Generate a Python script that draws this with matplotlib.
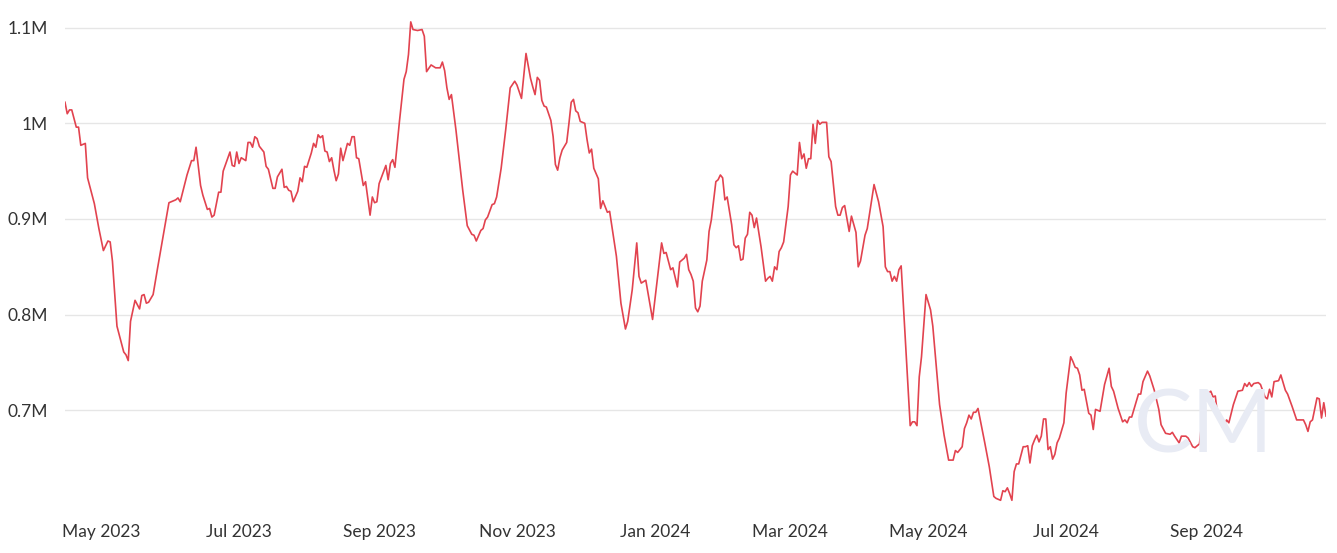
import numpy as np
import pandas as pd
import matplotlib
matplotlib.use("Agg")
import matplotlib.pyplot as plt
import matplotlib.dates as mdates
from matplotlib.ticker import FixedLocator, FuncFormatter

plt.rcParams["font.family"] = ["Lato", "DejaVu Sans"]

# ── data: days since first observation, value (thousands) ──────────────────
START = pd.Timestamp("2023-04-15")

day = [
    0, 1, 2, 3, 5, 6, 7, 9, 10, 13, 15, 17, 19, 20, 21, 23, 25, 26, 27, 28,
    29, 31, 33, 34, 35, 36, 37, 39, 41, 46, 48, 49, 50, 51, 54, 56, 57, 58, 60, 61,
    63, 64, 65, 66, 68, 69, 70, 73, 74, 75, 76, 77, 78, 80, 81, 82, 83, 84, 85, 86,
    88, 89, 90, 92, 93, 94, 96, 97, 98, 99, 100, 101, 103, 104, 105, 106, 107, 109, 110, 111,
    112, 113, 114, 115, 116, 117, 118, 119, 120, 121, 122, 123, 125, 126, 127, 128, 129, 130, 132, 133,
    135, 136, 137, 138, 139, 142, 143, 144, 145, 146, 148, 150, 151, 152, 153, 154, 156, 158, 159, 160,
    162, 164, 166, 167, 168, 169, 170, 171, 173, 176, 178, 180, 181, 182, 184, 185, 186, 187, 189, 190,
    191, 193, 195, 197, 199, 200, 201, 202, 204, 206, 207, 208, 209, 210, 211, 212, 213, 215, 216, 217,
    218, 219, 220, 222, 223, 224, 225, 226, 227, 228, 230, 231, 232, 233, 234, 236, 237, 238, 240, 241,
    244, 246, 248, 249, 251, 253, 254, 255, 257, 260, 264, 265, 266, 268, 269, 271, 272, 274, 275, 276,
    277, 278, 279, 280, 281, 282, 284, 285, 286, 288, 289, 290, 291, 292, 293, 295, 296, 297, 298, 299,
    300, 301, 302, 303, 304, 305, 306, 308, 310, 311, 312, 313, 314, 315, 316, 317, 318, 320, 321, 322,
    324, 325, 326, 327, 328, 329, 330, 331, 332, 333, 334, 335, 337, 338, 339, 341, 342, 343, 344, 345,
    347, 348, 350, 351, 352, 354, 355, 358, 360, 362, 363, 364, 365, 366, 367, 368, 369, 370, 372, 374,
    375, 376, 377, 378, 379, 381, 383, 384, 387, 389, 391, 393, 394, 395, 397, 398, 399, 400, 401, 402,
    403, 404, 407, 409, 411, 412, 414, 415, 416, 417, 418, 419, 420, 421, 422, 424, 425, 426, 427, 428,
    429, 430, 431, 432, 433, 434, 435, 436, 437, 438, 439, 440, 442, 443, 445, 446, 447, 448, 449, 450,
    451, 453, 454, 455, 456, 457, 458, 460, 462, 463, 464, 466, 468, 469, 470, 471, 472, 475, 476, 477,
    479, 480, 482, 484, 485, 487, 489, 490, 491, 493, 494, 496, 497, 499, 500, 502, 503, 505, 507, 508,
    509, 510, 512, 513, 514, 515, 517, 519, 521, 522, 523, 524, 525, 526, 528, 529, 531, 532, 533, 534,
    535, 537, 538, 540, 541, 543, 545, 548, 549, 550, 551, 552, 554, 555, 556, 557, 558,
]

value_k = [
    1022, 1010, 1014, 1014, 996, 996, 977, 979, 943, 916, 890, 867, 877, 876, 856, 788, 770, 761, 758, 752,
    793, 815, 806, 820, 821, 812, 813, 821, 849, 917, 919, 920, 922, 918, 946, 961, 961, 975, 935, 925,
    910, 911, 902, 904, 928, 928, 950, 970, 956, 955, 970, 958, 964, 961, 980, 980, 975, 986, 984, 976,
    970, 955, 952, 932, 932, 944, 952, 933, 934, 930, 929, 918, 929, 943, 939, 955, 954, 969, 979, 975,
    988, 985, 987, 971, 970, 960, 964, 951, 940, 947, 974, 961, 979, 977, 986, 986, 964, 963, 935, 939,
    904, 923, 917, 918, 937, 956, 941, 958, 962, 954, 1002, 1046, 1054, 1072, 1106, 1098, 1097, 1098, 1091, 1054,
    1061, 1058, 1058, 1064, 1055, 1037, 1025, 1030, 993, 930, 893, 884, 883, 877, 888, 890, 899, 902, 915, 916,
    923, 953, 993, 1037, 1044, 1040, 1033, 1026, 1073, 1047, 1038, 1030, 1048, 1045, 1024, 1018, 1017, 1003, 986, 957,
    951, 964, 972, 980, 1000, 1022, 1025, 1013, 1011, 1002, 1000, 983, 969, 973, 953, 942, 911, 919, 907, 908,
    861, 812, 785, 793, 826, 875, 840, 833, 836, 795, 875, 864, 865, 847, 849, 829, 855, 859, 863, 847,
    842, 835, 807, 803, 809, 835, 857, 887, 899, 939, 941, 946, 943, 920, 923, 894, 873, 870, 872, 857,
    858, 880, 884, 907, 904, 891, 901, 871, 835, 838, 840, 835, 850, 847, 866, 870, 876, 913, 946, 950,
    946, 980, 963, 968, 953, 963, 963, 999, 979, 1003, 999, 1001, 1001, 965, 960, 913, 904, 904, 912, 914,
    887, 903, 886, 850, 856, 883, 890, 936, 918, 892, 850, 845, 845, 835, 840, 835, 847, 851, 767, 684,
    688, 688, 684, 735, 756, 821, 805, 788, 706, 674, 648, 648, 658, 656, 662, 681, 687, 695, 691, 698,
    698, 702, 666, 641, 610, 608, 606, 616, 615, 619, 613, 606, 636, 644, 644, 662, 662, 663, 645, 663,
    669, 674, 667, 673, 691, 691, 659, 662, 649, 654, 666, 671, 687, 718, 756, 751, 745, 744, 737, 721,
    722, 697, 695, 680, 701, 700, 699, 727, 744, 725, 720, 702, 688, 690, 687, 693, 693, 717, 717, 730,
    741, 736, 721, 701, 685, 676, 675, 677, 673, 666, 673, 673, 671, 662, 661, 665, 687, 716, 720, 714,
    715, 695, 683, 685, 690, 687, 706, 720, 721, 728, 725, 729, 725, 728, 729, 727, 714, 712, 722, 714,
    730, 731, 737, 721, 717, 704, 690, 690, 685, 678, 688, 690, 713, 712, 692, 708, 694,
]

y_ticks = [700_000, 800_000, 900_000, 1_000_000, 1_100_000]

dates = START + pd.to_timedelta(day, unit="D")
values = np.array(value_k) * 1000.0

# ── figure ─────────────────────────────────────────────────────────────────
fig = plt.figure(figsize=(13.37, 5.53), dpi=100)
ax = fig.add_axes([0.0486, 0.0832, 0.9432, 0.8928])

ax.plot(dates, values, color="#e2434f", lw=1.2, zorder=3)

ax.set_xlim(dates[0], dates[-1])
ax.set_ylim(599_000, 1_115_000)

ax.yaxis.set_major_locator(FixedLocator(y_ticks))
ax.yaxis.set_major_formatter(FuncFormatter(lambda v, _: f"{v / 1e6:g}M"))
ax.xaxis.set_major_locator(mdates.MonthLocator(bymonth=[1, 3, 5, 7, 9, 11]))
ax.xaxis.set_major_formatter(mdates.DateFormatter("%b %Y"))

ax.grid(axis="y", color="#e6e6e6", lw=1.0, zorder=0)
ax.grid(axis="x", visible=False)
for s in ax.spines.values():
    s.set_visible(False)
ax.tick_params(axis="both", length=0, labelsize=12.5, colors="#333333")
ax.tick_params(axis="y", pad=12)
ax.tick_params(axis="x", pad=12.5)

# watermark
fig.text(0.9, 0.181, "CM", ha="center", va="baseline", fontsize=63,
         color="#e8ebf4", zorder=1)

fig.savefig("out.png", dpi=100)
